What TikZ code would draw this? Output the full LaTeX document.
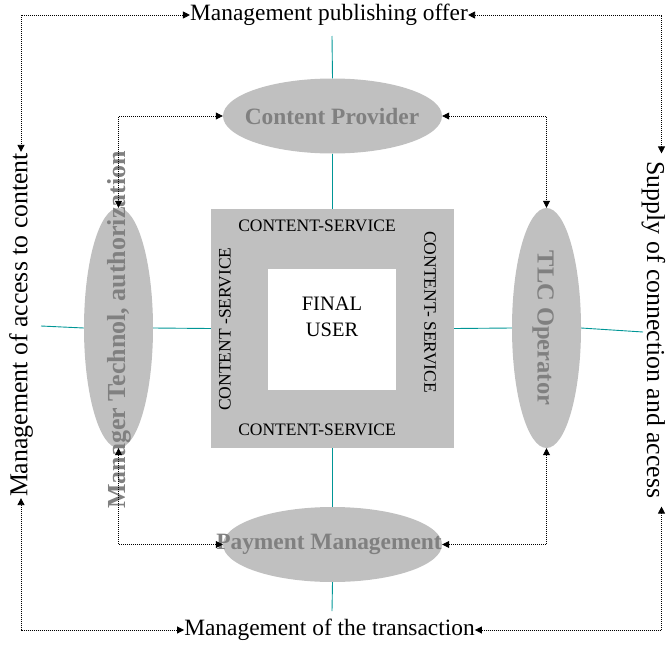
\documentclass[tikz,border=0pt]{standalone}
\usepackage{fontspec}
\setmainfont{Liberation Serif}
\usetikzlibrary{arrows.meta}
\definecolor{silverfill}{RGB}{192,192,192}
\definecolor{labelgray}{RGB}{128,128,128}
\definecolor{tealline}{RGB}{0,150,150}
\tikzset{
  outertxt/.style={inner sep=0pt, font=\fontsize{23.4}{28}\selectfont},
  sidetxt/.style={inner sep=0pt, font=\fontsize{25.8}{30}\selectfont},
  ellbox/.style={ellipse, fill=silverfill, draw=none, inner sep=0pt},
  elltxt/.style={inner sep=0pt, text=labelgray, font=\bfseries\fontsize{23.4}{28}\selectfont},
  cstxt/.style={inner sep=0pt, font=\fontsize{17.5}{21}\selectfont},
  dotarrow/.style={line width=0.8pt, dash pattern=on 0.9pt off 1.1pt, {Triangle[length=7pt,width=7pt]}-{Triangle[length=7pt,width=7pt]}},
  tealconn/.style={draw=tealline, line width=0.9pt},
}
\usetikzlibrary{shapes.geometric}
\begin{document}
\begin{tikzpicture}[x=1pt,y=-1pt]
\useasboundingbox (0,0) rectangle (666,645);
% central box
\node[rectangle, fill=silverfill, minimum width=243pt, minimum height=239pt, inner sep=0pt] (box) at (332.5,328.5) {};
\node[rectangle, fill=white, minimum width=128pt, minimum height=121pt, inner sep=0pt] (fu) at (332,329.5) {};
\node[inner sep=0pt, align=center, font=\fontsize{20.5}{26}\selectfont] (fut) at (332,317) {FINAL\\USER};
\node[cstxt] (cst) at (317,226) {CONTENT-SERVICE};
\node[cstxt] (csb) at (317,430) {CONTENT-SERVICE};
\node[cstxt, rotate=90] (csl) at (225,329) {CONTENT -SERVICE};
\node[cstxt, rotate=-90] (csr) at (430,312) {CONTENT- SERVICE};
% ellipses
\node[ellbox, minimum width=219pt, minimum height=75pt] (cp) at (332.5,116) {};
\node[elltxt] (cpt) at (332,116) {Content Provider};
\node[ellbox, minimum width=219pt, minimum height=75pt] (pay) at (332.5,544.5) {};
\node[elltxt] (payt) at (329,544) {Payment Management};
\node[ellbox, minimum width=69pt, minimum height=240pt] (mgr) at (118.5,328) {};
\node[elltxt, rotate=90, font=\bfseries\fontsize{26}{30}\selectfont] (mgrt) at (119,330) {Manager Technol, authorization};
\node[ellbox, minimum width=69pt, minimum height=240pt] (tlc) at (546.5,328) {};
\node[elltxt, rotate=-90, font=\bfseries\fontsize{24.5}{30}\selectfont] (tlct) at (543,328) {TLC Operator};
% outer texts
\node[outertxt] (pub) at (329,15) {Management publishing offer};
\node[outertxt] (tra) at (329.5,630) {Management of the transaction};
\node[sidetxt, rotate=90, inner xsep=1pt] (acc) at (21,325) {Management of access to content};
\node[sidetxt, rotate=-90, inner xsep=8pt] (sup) at (653.5,330) {Supply of connection and access};
% free ends of teal connectors
\coordinate (ctop) at (332,36);
\coordinate (cbot) at (332,611);
\coordinate (cleft) at (41,326);
\coordinate (cright) at (643,332);
% teal connectors
\draw[tealconn] (cp.north) -- (ctop);
\draw[tealconn] (cp.south) -- (box.north);
\draw[tealconn] (box.south) -- (pay.north);
\draw[tealconn] (pay.south) -- (cbot);
\draw[tealconn] (box.west) -- (mgr.east);
\draw[tealconn] (mgr.west) -- (cleft);
\draw[tealconn] (box.east) -- (tlc.west);
\draw[tealconn] (tlc.east) -- (cright);
% dotted arrows, inner
\draw[dotarrow] (cp.west) -| (mgr.north);
\draw[dotarrow] (cp.east) -| (tlc.north);
\draw[dotarrow] (pay.west) -| (mgr.south);
\draw[dotarrow] (pay.east) -| (tlc.south);
% dotted arrows, outer
\draw[dotarrow] (pub.west) -| (acc.east);
\draw[dotarrow] (pub.east) -| ([xshift=8pt]sup.west);
\draw[dotarrow] (tra.west) -| (acc.west);
\draw[dotarrow] (tra.east) -| ([xshift=8pt]sup.east);
\end{tikzpicture}
\end{document}
